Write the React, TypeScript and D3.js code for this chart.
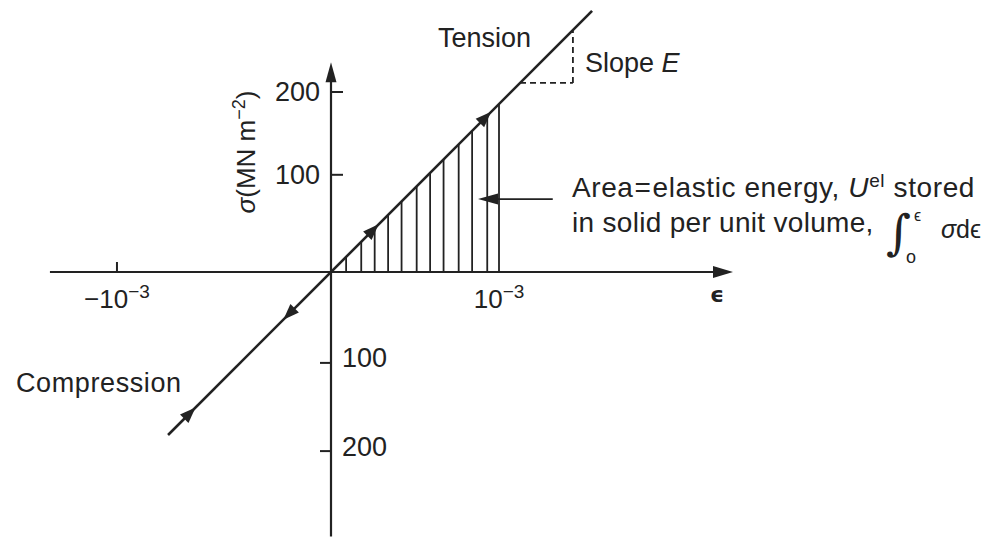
import React from "react";
import * as d3 from "d3";

// ---- data ----
const youngModulus = 186700; // MN m^-2 per unit strain (slope of the line)
const lineStrain = [-0.97e-3, 1.554e-3];
const hatchStrains = [0.09e-3, 0.18e-3, 0.26e-3, 0.34e-3, 0.42e-3, 0.51e-3, 0.59e-3, 0.67e-3, 0.76e-3, 0.84e-3, 0.93e-3, 1.0e-3];
const arrowStrains = [0.25e-3, 0.92e-3, -0.25e-3, -0.84e-3];
const arrowDirs = [1, 1, -1, 1];
const slopeStrains = [1.125e-3, 1.44e-3];
const xTickValues = [-1.274e-3];
const xLabelValues = [-1.274e-3, 1.0e-3];
const xLabelTexts = ["−10", "10"];
const yTickValues = [200, 108, -101, -199];
const yTickLabels = ["200", "100", "100", "200"];
const xAxisExtent = [-1.673e-3, 2.393e-3];
const yAxisExtent = [233, -294];
const pointerStress = 81;
const pointerStrain = [0.875e-3, 1.32e-3];

const W = 990;
const H = 542;
const FONT = "'Liberation Sans', Arial, Helvetica, sans-serif";
const INK = "#222";

export default function App() {
  const x = d3.scaleLinear().domain([0, 1e-3]).range([331, 499]);
  const y = d3.scaleLinear().domain([0, 200]).range([272, 92]);
  const x0 = x(0);
  const y0 = y(0);

  const line = d3.line<number>().x((e) => x(e)).y((e) => y(youngModulus * e));

  const arrowHead = (cx: number, cy: number, angleDeg: number, len: number, half: number) => {
    const path = d3.path();
    path.moveTo(len / 2, 0);
    path.lineTo(-len / 2, -half);
    path.lineTo(-len / 2, half);
    path.closePath();
    return (
      <path d={path.toString()} transform={`translate(${cx},${cy}) rotate(${angleDeg})`} fill={INK} />
    );
  };

  const xAxisEnd = x(xAxisExtent[1]);
  const yAxisTop = y(yAxisExtent[0]);

  return (
    <svg width={W} height={H} style={{ position: "absolute", left: 0, top: 0, background: "#fff" }} fontFamily={FONT}>
      <rect width={W} height={H} fill="#fff" />
      {/* axes */}
      <line x1={x(xAxisExtent[0])} x2={xAxisEnd - 10} y1={y0} y2={y0} stroke={INK} strokeWidth={2.2} />
      <path d={`M${xAxisEnd},${y0} L${xAxisEnd - 20},${y0 - 6} L${xAxisEnd - 20},${y0 + 6} Z`} fill={INK} />
      <line x1={x0} x2={x0} y1={yAxisTop + 10} y2={y(yAxisExtent[1])} stroke={INK} strokeWidth={2.2} />
      <path d={`M${x0},${yAxisTop} L${x0 - 5.5},${yAxisTop + 20} L${x0 + 5.5},${yAxisTop + 20} Z`} fill={INK} />

      {/* y ticks */}
      {yTickValues.map((v, i) => (
        <g key={"yt" + i}>
          <line x1={x0} x2={v > 0 ? x0 + 12 : x0 - 11} y1={y(v)} y2={y(v)} stroke={INK} strokeWidth={2} />
          <text
            x={v > 0 ? x0 - 11 : x0 + 11}
            y={y(v) + (v > 0 ? 0 : -5)}
            dy="0.35em"
            textAnchor={v > 0 ? "end" : "start"}
            fontSize={27}
            fill={INK}
          >
            {yTickLabels[i]}
          </text>
        </g>
      ))}

      {/* x ticks */}
      {xTickValues.map((v, i) => (
        <line key={"xt" + i} x1={x(v)} x2={x(v)} y1={y0} y2={y0 - 10} stroke={INK} strokeWidth={2} />
      ))}
      {xLabelValues.map((v, i) => (
        <text key={"xl" + i} x={x(v)} y={y0 + 36} textAnchor="middle" fontSize={26} fill={INK}>
          {xLabelTexts[i]}
          <tspan dy={-10} fontSize={19}>−3</tspan>
        </text>
      ))}
      <text x={710} y={302} fontSize={22} fill={INK} fontFamily="'DejaVu Sans', sans-serif" fontWeight="bold">ϵ</text>

      {/* y axis label */}
      <text transform={`translate(255,152) rotate(-90)`} textAnchor="middle" fontSize={26} fill={INK}>
        <tspan fontStyle="italic">σ</tspan>
        <tspan>(MN m</tspan>
        <tspan dy={-10} fontSize={18}>−2</tspan>
        <tspan dy={10}>)</tspan>
      </text>

      {/* hatching */}
      {hatchStrains.map((e, i) => (
        <line key={"h" + i} x1={x(e)} x2={x(e)} y1={y0} y2={y(youngModulus * e)} stroke={INK} strokeWidth={1.8} />
      ))}

      {/* main line */}
      <path d={line(lineStrain) ?? ""} fill="none" stroke={INK} strokeWidth={2.6} />

      {/* arrows along line */}
      {arrowStrains.map((e, i) => (
        <g key={"a" + i}>{arrowHead(x(e), y(youngModulus * e), arrowDirs[i] > 0 ? -45 : 135, 16, 6)}</g>
      ))}

      {/* slope triangle */}
      <line
        x1={x(slopeStrains[0])}
        x2={x(slopeStrains[1])}
        y1={y(youngModulus * slopeStrains[0])}
        y2={y(youngModulus * slopeStrains[0])}
        stroke={INK}
        strokeWidth={1.8}
        strokeDasharray="6,4"
      />
      <line
        x1={x(slopeStrains[1])}
        x2={x(slopeStrains[1])}
        y1={y(youngModulus * slopeStrains[0])}
        y2={y(youngModulus * slopeStrains[1])}
        stroke={INK}
        strokeWidth={1.8}
        strokeDasharray="6,4"
      />

      {/* pointer arrow */}
      <line x1={x(pointerStrain[0]) + 12} x2={x(pointerStrain[1])} y1={y(pointerStress)} y2={y(pointerStress)} stroke={INK} strokeWidth={1.8} />
      {arrowHead(x(pointerStrain[0]) + 10, y(pointerStress), 180, 20, 5.5)}

      {/* labels */}
      <text x={438} y={47} fontSize={27} fill={INK}>Tension</text>
      <text x={585} y={72} fontSize={27} fill={INK}>
        Slope <tspan fontStyle="italic">E</tspan>
      </text>
      <text x={16} y={392} fontSize={27} fill={INK} letterSpacing={0.6}>Compression</text>

      <text x={572} y={197} fontSize={28} fill={INK} letterSpacing={0.6}>
        Area
        <tspan dx={1}>=</tspan>
        <tspan dx={1}>elastic energy, </tspan>
        <tspan fontStyle="italic">U</tspan>
        <tspan dy={-10} fontSize={19}>el</tspan>
        <tspan dy={10}> stored</tspan>
      </text>
      <text x={572} y={232} fontSize={28} fill={INK} letterSpacing={0.3}>in solid per unit volume,</text>
      <text x={886} y={249} fontSize={48} fill={INK} fontFamily="'DejaVu Serif', serif">∫</text>
      <text x={914} y={221} fontSize={16} fill={INK}>ϵ</text>
      <text x={906} y={263} fontSize={18} fill={INK}>o</text>
      <text x={941} y={238} fontSize={25} fill={INK}>
        <tspan fontStyle="italic">σ</tspan>dϵ
      </text>
    </svg>
  );
}
